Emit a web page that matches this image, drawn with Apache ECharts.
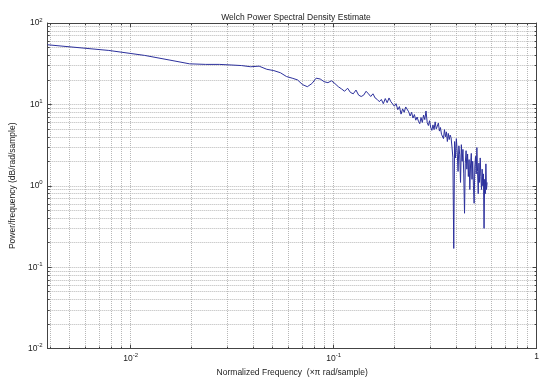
<!DOCTYPE html>
<html>
<head>
<meta charset="utf-8">
<script src="https://cdn.jsdelivr.net/npm/echarts@6/dist/echarts.min.js"></script>
<style>
  html, body { margin: 0; padding: 0; background: #fff; }
  #chart { width: 542px; height: 382px; }
</style>
</head>
<body>
<div id="chart"></div>
<script>
// Welch PSD estimate, one-sided, bins k = 1..146 of a 512-point FFT (k/256 of pi rad/sample)
const binCount = 256;
const psdValues = [
  54, 46, 40, 35, 31.5, 31, 31, 30.5, 30, 29,
  29.5, 27, 26, 24.5, 22, 21, 20, 17.5, 16.5, 18,
  21, 20.5, 19, 18.5, 19.5, 18, 16.5, 15.5, 14.5, 15.8,
  14, 13.5, 15, 13, 12.5, 13, 14.5, 13.5, 12.5, 13.5,
  12, 11.5, 10.8, 11.5, 10.2, 11.8, 10.5, 12.0, 10.8, 11.3,
  9.5, 10.2, 8.6, 9.4, 7.6, 8.8, 8.0, 9.3, 9.0, 8.1,
  7.2, 8.0, 6.8, 7.5, 6.4, 7.0, 6.2, 5.8, 6.9, 6.0,
  7.4, 6.5, 8.3, 6.0, 5.5, 6.3, 5.2, 4.8, 5.6, 4.9,
  6.1, 5.0, 5.4, 5.9, 4.7, 5.2, 4.3, 4.5, 3.8, 4.9,
  4.0, 4.6, 3.5, 4.4, 3.7, 4.2, 3.9, 3.0, 2.25, 0.17,
  3.5, 2.2, 3.8, 2.6, 1.5, 3.1, 2.4, 1.1, 3.2, 2.0,
  2.8, 1.4, 0.46, 1.9, 2.7, 1.6, 2.46, 1.3, 2.1, 0.9,
  1.8, 2.5, 1.2, 2.0, 1.0, 0.61, 1.7, 2.3, 1.4, 2.95,
  1.5, 0.8, 1.9, 1.1, 2.2, 1.3, 0.9, 1.6, 1.0, 1.4,
  0.30, 1.2, 0.8, 1.86, 0.9, 1.1
];

const xRange = [1 / 256, 1];
const yRange = [0.01, 100];

const FONT = 'Liberation Sans, Arial, sans-serif';
const TEXT = '#222';
const AXIS = '#444';
const GRID = '#b8b8b8';

const series = psdValues.map((p, i) => [(i + 1) / binCount, p]);

// decade labels as 10^n; the frequency axis writes its last decade as a plain "1"
function decadeLabel(v) {
  const e = Math.round(Math.log10(v));
  if (Math.abs(v / Math.pow(10, e) - 1) > 1e-6) return '';
  return '{b|10}{s|' + e + '}';
}
function freqLabel(v) {
  if (Math.abs(v - 1) < 1e-9) return '{b|1}';
  return decadeLabel(v);
}

const richDecade = {
  b: { fontSize: 8.5, color: TEXT, fontFamily: FONT },
  s: { fontSize: 6, color: TEXT, fontFamily: FONT, padding: [0, 0, 6, 0] }
};

const dotted = { type: 'dotted', color: GRID, width: 1 };

function logAxis(range, extra) {
  return Object.assign({
    type: 'log',
    logBase: 10,
    min: range[0],
    max: range[1],
    axisLine: { show: true, lineStyle: { color: AXIS, width: 1 } },
    axisTick: { show: true, inside: true, length: 4, lineStyle: { color: AXIS } },
    minorTick: { show: true, splitNumber: 9, length: 2, lineStyle: { color: AXIS } },
    splitLine: { show: true, lineStyle: dotted },
    minorSplitLine: { show: true, lineStyle: dotted }
  }, extra);
}

const chart = echarts.init(document.getElementById('chart'), null, { renderer: 'canvas' });

chart.setOption({
  animation: false,
  backgroundColor: '#fff',
  title: {
    text: 'Welch Power Spectral Density Estimate',
    left: 291, top: 8, textAlign: 'center',
    textStyle: { fontSize: 8.5, fontWeight: 'normal', color: TEXT, fontFamily: FONT }
  },
  grid: { left: 41, right: 1, top: 23, bottom: 26, containLabel: false },
  xAxis: [
    logAxis(xRange, {
      position: 'bottom',
      name: 'Normalized Frequency  (\u00d7\u03c0 rad/sample)',
      nameLocation: 'middle', nameGap: 15,
      nameTextStyle: { fontSize: 8.5, color: TEXT, fontFamily: FONT },
      axisLabel: {
        show: true, formatter: freqLabel, rich: richDecade,
        showMinLabel: false, hideOverlap: false, margin: 4
      }
    }),
    logAxis(xRange, {
      position: 'top',
      splitLine: { show: false }, minorSplitLine: { show: false },
      axisLabel: { show: false }
    })
  ],
  yAxis: [
    logAxis(yRange, {
      position: 'left',
      name: 'Power/frequency (dB/rad/sample)',
      nameLocation: 'middle', nameGap: 24,
      nameTextStyle: { fontSize: 8.5, color: TEXT, fontFamily: FONT },
      axisLabel: {
        show: true, formatter: decadeLabel, rich: richDecade,
        showMinLabel: true, hideOverlap: false, margin: 5
      }
    }),
    logAxis(yRange, {
      position: 'right',
      splitLine: { show: false }, minorSplitLine: { show: false },
      axisLabel: { show: false }
    })
  ],
  series: [{
    type: 'line',
    xAxisIndex: 0,
    yAxisIndex: 0,
    data: series,
    showSymbol: false,
    symbol: 'none',
    clip: true,
    lineStyle: { color: '#2c309c', width: 1 }
  }]
});
</script>
</body>
</html>
